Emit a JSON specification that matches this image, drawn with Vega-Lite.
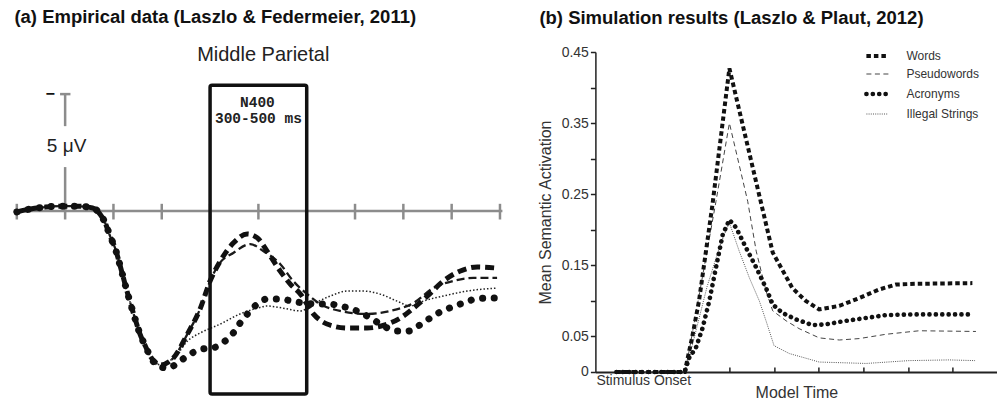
{
 "$schema": "https://vega.github.io/schema/vega-lite/v6.json",
 "background": "white",
 "padding": {"left": 2.4, "top": 8, "right": 0, "bottom": 0},
 "spacing": 23,
 "resolve": {"scale": {"color": "independent", "strokeDash": "independent", "strokeWidth": "independent"}, "legend": {"color": "independent", "strokeDash": "independent", "strokeWidth": "independent"}},
 "datasets": {
  "ticks": [{"t":-100},{"t":0},{"t":100},{"t":200},{"t":300},{"t":400},{"t":500},{"t":600},{"t":700},{"t":800},{"t":900}],
  "erp": [
   {"s":"Words","t":-100,"v":0.04},{"s":"Words","t":-72,"v":-0.09},{"s":"Words","t":-41,"v":-0.17},{"s":"Words","t":-10,"v":-0.21},{"s":"Words","t":21,"v":-0.21},{"s":"Words","t":48,"v":-0.17},{"s":"Words","t":62,"v":-0.09},{"s":"Words","t":72,"v":0.13},{"s":"Words","t":83,"v":0.51},{"s":"Words","t":93,"v":1.07},{"s":"Words","t":104,"v":1.62},{"s":"Words","t":114,"v":2.35},{"s":"Words","t":124,"v":3.12},{"s":"Words","t":135,"v":3.93},{"s":"Words","t":145,"v":4.62},{"s":"Words","t":155,"v":5.26},{"s":"Words","t":166,"v":5.77},{"s":"Words","t":176,"v":6.2},
   {"s":"Words","t":186,"v":6.45},{"s":"Words","t":197,"v":6.58},{"s":"Words","t":224,"v":6.28},{"s":"Words","t":253,"v":5.26},{"s":"Words","t":280,"v":4.15},{"s":"Words","t":300,"v":2.99},{"s":"Words","t":321,"v":2.14},{"s":"Words","t":348,"v":1.37},{"s":"Words","t":377,"v":0.98},{"s":"Words","t":398,"v":1.15},{"s":"Words","t":418,"v":1.71},{"s":"Words","t":445,"v":2.56},{"s":"Words","t":466,"v":3.12},{"s":"Words","t":487,"v":3.55},{"s":"Words","t":514,"v":4.4},{"s":"Words","t":542,"v":4.83},{"s":"Words","t":584,"v":5.0},{"s":"Words","t":625,"v":5.0},{"s":"Words","t":667,"v":4.83},{"s":"Words","t":694,"v":4.57},{"s":"Words","t":721,"v":4.15},{"s":"Words","t":750,"v":3.63},{"s":"Words","t":783,"v":2.99},{"s":"Words","t":818,"v":2.56},{"s":"Words","t":853,"v":2.39},{"s":"Words","t":894,"v":2.44},
   {"s":"Pseudowords","t":-100,"v":0.04},{"s":"Pseudowords","t":-72,"v":-0.09},{"s":"Pseudowords","t":-41,"v":-0.17},{"s":"Pseudowords","t":-10,"v":-0.21},{"s":"Pseudowords","t":21,"v":-0.21},{"s":"Pseudowords","t":48,"v":-0.17},{"s":"Pseudowords","t":62,"v":-0.09},{"s":"Pseudowords","t":72,"v":0.13},{"s":"Pseudowords","t":83,"v":0.51},{"s":"Pseudowords","t":93,"v":1.07},{"s":"Pseudowords","t":104,"v":1.62},{"s":"Pseudowords","t":114,"v":2.35},{"s":"Pseudowords","t":124,"v":3.12},{"s":"Pseudowords","t":135,"v":3.93},{"s":"Pseudowords","t":145,"v":4.62},{"s":"Pseudowords","t":155,"v":5.26},{"s":"Pseudowords","t":166,"v":5.77},{"s":"Pseudowords","t":176,"v":6.2},
   {"s":"Pseudowords","t":186,"v":6.45},{"s":"Pseudowords","t":197,"v":6.58},{"s":"Pseudowords","t":224,"v":6.28},{"s":"Pseudowords","t":253,"v":5.26},{"s":"Pseudowords","t":280,"v":4.15},{"s":"Pseudowords","t":300,"v":2.99},{"s":"Pseudowords","t":321,"v":2.2},{"s":"Pseudowords","t":348,"v":1.79},{"s":"Pseudowords","t":383,"v":1.41},{"s":"Pseudowords","t":410,"v":1.71},{"s":"Pseudowords","t":445,"v":2.26},{"s":"Pseudowords","t":472,"v":2.99},{"s":"Pseudowords","t":501,"v":3.55},{"s":"Pseudowords","t":528,"v":3.97},{"s":"Pseudowords","t":569,"v":4.27},{"s":"Pseudowords","t":625,"v":4.4},{"s":"Pseudowords","t":673,"v":4.27},{"s":"Pseudowords","t":721,"v":3.93},{"s":"Pseudowords","t":762,"v":3.29},{"s":"Pseudowords","t":803,"v":2.99},{"s":"Pseudowords","t":845,"v":2.86},{"s":"Pseudowords","t":894,"v":2.86},
   {"s":"Acronyms","t":-100,"v":0.04},{"s":"Acronyms","t":-72,"v":-0.09},{"s":"Acronyms","t":-41,"v":-0.17},{"s":"Acronyms","t":-10,"v":-0.21},{"s":"Acronyms","t":21,"v":-0.21},{"s":"Acronyms","t":48,"v":-0.17},{"s":"Acronyms","t":62,"v":-0.09},{"s":"Acronyms","t":72,"v":0.13},{"s":"Acronyms","t":83,"v":0.51},{"s":"Acronyms","t":93,"v":1.07},{"s":"Acronyms","t":104,"v":1.62},{"s":"Acronyms","t":114,"v":2.35},{"s":"Acronyms","t":124,"v":3.12},{"s":"Acronyms","t":135,"v":3.93},{"s":"Acronyms","t":145,"v":4.62},{"s":"Acronyms","t":155,"v":5.26},{"s":"Acronyms","t":166,"v":5.77},{"s":"Acronyms","t":176,"v":6.2},
   {"s":"Acronyms","t":191,"v":6.62},{"s":"Acronyms","t":213,"v":6.71},{"s":"Acronyms","t":238,"v":6.41},{"s":"Acronyms","t":259,"v":6.11},{"s":"Acronyms","t":284,"v":5.9},{"s":"Acronyms","t":306,"v":5.85},{"s":"Acronyms","t":331,"v":5.56},{"s":"Acronyms","t":348,"v":5.21},{"s":"Acronyms","t":362,"v":4.79},{"s":"Acronyms","t":379,"v":4.36},{"s":"Acronyms","t":398,"v":3.97},{"s":"Acronyms","t":418,"v":3.76},{"s":"Acronyms","t":445,"v":3.76},{"s":"Acronyms","t":470,"v":3.85},{"s":"Acronyms","t":493,"v":3.93},{"s":"Acronyms","t":518,"v":3.97},{"s":"Acronyms","t":545,"v":3.97},{"s":"Acronyms","t":569,"v":4.06},{"s":"Acronyms","t":594,"v":4.19},{"s":"Acronyms","t":617,"v":4.4},{"s":"Acronyms","t":642,"v":4.7},{"s":"Acronyms","t":663,"v":4.96},{"s":"Acronyms","t":687,"v":5.13},{"s":"Acronyms","t":710,"v":5.13},{"s":"Acronyms","t":731,"v":4.91},{"s":"Acronyms","t":756,"v":4.57},{"s":"Acronyms","t":776,"v":4.32},{"s":"Acronyms","t":801,"v":4.1},{"s":"Acronyms","t":824,"v":3.93},{"s":"Acronyms","t":849,"v":3.76},{"s":"Acronyms","t":874,"v":3.72},{"s":"Acronyms","t":897,"v":3.72},
   {"s":"Illegal Strings","t":-100,"v":0.04},{"s":"Illegal Strings","t":-72,"v":-0.09},{"s":"Illegal Strings","t":-41,"v":-0.17},{"s":"Illegal Strings","t":-10,"v":-0.21},{"s":"Illegal Strings","t":21,"v":-0.21},{"s":"Illegal Strings","t":48,"v":-0.17},{"s":"Illegal Strings","t":62,"v":-0.09},{"s":"Illegal Strings","t":72,"v":0.13},{"s":"Illegal Strings","t":83,"v":0.51},{"s":"Illegal Strings","t":93,"v":1.07},{"s":"Illegal Strings","t":104,"v":1.62},{"s":"Illegal Strings","t":114,"v":2.35},{"s":"Illegal Strings","t":124,"v":3.12},{"s":"Illegal Strings","t":135,"v":3.93},{"s":"Illegal Strings","t":145,"v":4.62},{"s":"Illegal Strings","t":155,"v":5.26},{"s":"Illegal Strings","t":166,"v":5.77},{"s":"Illegal Strings","t":176,"v":6.2},
   {"s":"Illegal Strings","t":186,"v":6.45},{"s":"Illegal Strings","t":197,"v":6.58},{"s":"Illegal Strings","t":232,"v":6.11},{"s":"Illegal Strings","t":253,"v":5.56},{"s":"Illegal Strings","t":280,"v":5.21},{"s":"Illegal Strings","t":321,"v":4.83},{"s":"Illegal Strings","t":362,"v":4.4},{"s":"Illegal Strings","t":398,"v":4.15},{"s":"Illegal Strings","t":418,"v":4.06},{"s":"Illegal Strings","t":451,"v":4.15},{"s":"Illegal Strings","t":487,"v":4.27},{"s":"Illegal Strings","t":514,"v":3.97},{"s":"Illegal Strings","t":549,"v":3.63},{"s":"Illegal Strings","t":584,"v":3.42},{"s":"Illegal Strings","t":617,"v":3.42},{"s":"Illegal Strings","t":652,"v":3.55},{"s":"Illegal Strings","t":687,"v":3.85},{"s":"Illegal Strings","t":714,"v":4.06},{"s":"Illegal Strings","t":741,"v":3.85},{"s":"Illegal Strings","t":783,"v":3.63},{"s":"Illegal Strings","t":832,"v":3.42},{"s":"Illegal Strings","t":894,"v":3.29}
  ],
  "sim": [
   {"s":"Words","t":0.47,"v":0},{"s":"Words","t":2,"v":0},{"s":"Words","t":2.17,"v":0.05},{"s":"Words","t":2.32,"v":0.1},{"s":"Words","t":2.62,"v":0.235},{"s":"Words","t":3,"v":0.427},{"s":"Words","t":3.97,"v":0.168},{"s":"Words","t":4.19,"v":0.143},{"s":"Words","t":4.41,"v":0.118},{"s":"Words","t":4.71,"v":0.1},{"s":"Words","t":5.01,"v":0.088},{"s":"Words","t":5.46,"v":0.093},{"s":"Words","t":5.91,"v":0.104},{"s":"Words","t":6.35,"v":0.116},{"s":"Words","t":6.73,"v":0.123},{"s":"Words","t":7.17,"v":0.124},{"s":"Words","t":8.44,"v":0.125},
   {"s":"Pseudowords","t":0.47,"v":0},{"s":"Pseudowords","t":2,"v":0},{"s":"Pseudowords","t":2.1,"v":0.03},{"s":"Pseudowords","t":2.7,"v":0.24},{"s":"Pseudowords","t":3,"v":0.35},{"s":"Pseudowords","t":3.41,"v":0.24},{"s":"Pseudowords","t":3.6,"v":0.17},{"s":"Pseudowords","t":3.82,"v":0.114},{"s":"Pseudowords","t":3.97,"v":0.086},{"s":"Pseudowords","t":4.27,"v":0.072},{"s":"Pseudowords","t":4.56,"v":0.061},{"s":"Pseudowords","t":5.01,"v":0.048},{"s":"Pseudowords","t":5.46,"v":0.045},{"s":"Pseudowords","t":5.91,"v":0.047},{"s":"Pseudowords","t":6.5,"v":0.053},{"s":"Pseudowords","t":7.25,"v":0.058},{"s":"Pseudowords","t":8.52,"v":0.057},
   {"s":"Acronyms","t":0.47,"v":0},{"s":"Acronyms","t":2,"v":0},{"s":"Acronyms","t":2.1,"v":0.02},{"s":"Acronyms","t":2.25,"v":0.034},{"s":"Acronyms","t":2.4,"v":0.062},{"s":"Acronyms","t":2.55,"v":0.1},{"s":"Acronyms","t":2.7,"v":0.147},{"s":"Acronyms","t":2.85,"v":0.193},{"s":"Acronyms","t":3,"v":0.214},{"s":"Acronyms","t":3.15,"v":0.203},{"s":"Acronyms","t":3.37,"v":0.175},{"s":"Acronyms","t":3.6,"v":0.147},{"s":"Acronyms","t":3.82,"v":0.118},{"s":"Acronyms","t":3.97,"v":0.095},{"s":"Acronyms","t":4.19,"v":0.083},{"s":"Acronyms","t":4.49,"v":0.074},{"s":"Acronyms","t":4.86,"v":0.066},{"s":"Acronyms","t":5.16,"v":0.067},{"s":"Acronyms","t":5.61,"v":0.072},{"s":"Acronyms","t":6.06,"v":0.076},{"s":"Acronyms","t":6.5,"v":0.08},{"s":"Acronyms","t":7.1,"v":0.081},{"s":"Acronyms","t":8.44,"v":0.081},
   {"s":"Illegal Strings","t":0.47,"v":0},{"s":"Illegal Strings","t":2,"v":0},{"s":"Illegal Strings","t":2.1,"v":0.02},{"s":"Illegal Strings","t":2.5,"v":0.12},{"s":"Illegal Strings","t":2.8,"v":0.18},{"s":"Illegal Strings","t":3,"v":0.21},{"s":"Illegal Strings","t":3.22,"v":0.17},{"s":"Illegal Strings","t":3.45,"v":0.132},{"s":"Illegal Strings","t":3.67,"v":0.1},{"s":"Illegal Strings","t":3.82,"v":0.072},{"s":"Illegal Strings","t":4.0,"v":0.037},{"s":"Illegal Strings","t":4.34,"v":0.026},{"s":"Illegal Strings","t":4.79,"v":0.018},{"s":"Illegal Strings","t":5.01,"v":0.014},{"s":"Illegal Strings","t":6.06,"v":0.012},{"s":"Illegal Strings","t":7.02,"v":0.016},{"s":"Illegal Strings","t":7.92,"v":0.017},{"s":"Illegal Strings","t":8.5,"v":0.016}
  ]
 },
 "hconcat": [
  {
   "width": 488,
   "height": 349,
   "title": {"text": "(a) Empirical data (Laszlo & Federmeier, 2011)", "offset": 18},
   "layer": [
    {"data": {"values": [{}]}, "mark": {"type": "rule", "color": "#8c8c8c", "strokeWidth": 2.5},
     "encoding": {"x": {"datum": -100, "type": "quantitative", "scale": {"domain": [-105, 905], "nice": false, "zero": false}, "axis": null}, "x2": {"datum": 905},
                  "y": {"datum": 0, "type": "quantitative", "scale": {"domain": [-6.8, 8.12], "nice": false, "zero": false, "reverse": true}, "axis": null}}},
    {"data": {"name": "ticks"}, "mark": {"type": "rule", "color": "#8c8c8c", "strokeWidth": 2.5},
     "encoding": {"x": {"field": "t", "type": "quantitative", "scale": {"domain": [-105, 905], "nice": false, "zero": false}, "axis": null},
                  "y": {"datum": -0.31, "type": "quantitative", "scale": {"domain": [-6.8, 8.12], "nice": false, "zero": false, "reverse": true}, "axis": null}, "y2": {"datum": 0.36}}},
    {"data": {"values": [{}]}, "mark": {"type": "rule", "color": "#8c8c8c", "strokeWidth": 2.5},
     "encoding": {"x": {"datum": 0, "type": "quantitative", "scale": {"domain": [-105, 905], "nice": false, "zero": false}, "axis": null},
                  "y": {"datum": 0, "type": "quantitative", "scale": {"domain": [-6.8, 8.12], "nice": false, "zero": false, "reverse": true}, "axis": null}, "y2": {"datum": -1.88}}},
    {"data": {"values": [{}]}, "mark": {"type": "rule", "color": "#8c8c8c", "strokeWidth": 2.5},
     "encoding": {"x": {"datum": 0, "type": "quantitative", "scale": {"domain": [-105, 905], "nice": false, "zero": false}, "axis": null},
                  "y": {"datum": -3.63, "type": "quantitative", "scale": {"domain": [-6.8, 8.12], "nice": false, "zero": false, "reverse": true}, "axis": null}, "y2": {"datum": -5.0}}},
    {"data": {"values": [{}]}, "mark": {"type": "rule", "color": "#8c8c8c", "strokeWidth": 2.5},
     "encoding": {"x": {"datum": -10.5, "type": "quantitative", "scale": {"domain": [-105, 905], "nice": false, "zero": false}, "axis": null}, "x2": {"datum": 11},
                  "y": {"datum": -5.0, "type": "quantitative", "scale": {"domain": [-6.8, 8.12], "nice": false, "zero": false, "reverse": true}, "axis": null}}},
    {"data": {"values": [{}]}, "mark": {"type": "text", "text": "−", "fontSize": 16, "fontWeight": "bold", "color": "#111", "baseline": "middle"},
     "encoding": {"x": {"datum": -31, "type": "quantitative", "scale": {"domain": [-105, 905], "nice": false, "zero": false}, "axis": null},
                  "y": {"datum": -5.0, "type": "quantitative", "scale": {"domain": [-6.8, 8.12], "nice": false, "zero": false, "reverse": true}, "axis": null}}},
    {"data": {"values": [{}]}, "mark": {"type": "text", "text": "5 μV", "fontSize": 19, "color": "#222", "baseline": "middle"},
     "encoding": {"x": {"datum": 3, "type": "quantitative", "scale": {"domain": [-105, 905], "nice": false, "zero": false}, "axis": null},
                  "y": {"datum": -2.78, "type": "quantitative", "scale": {"domain": [-6.8, 8.12], "nice": false, "zero": false, "reverse": true}, "axis": null}}},
    {"data": {"values": [{}]}, "mark": {"type": "text", "text": "Middle Parietal", "fontSize": 20, "color": "#222", "baseline": "middle"},
     "encoding": {"x": {"datum": 410, "type": "quantitative", "scale": {"domain": [-105, 905], "nice": false, "zero": false}, "axis": null},
                  "y": {"datum": -6.68, "type": "quantitative", "scale": {"domain": [-6.8, 8.12], "nice": false, "zero": false, "reverse": true}, "axis": null}}},
    {"data": {"name": "erp"}, "transform": [{"filter": "datum.s === 'Illegal Strings'"}],
     "mark": {"type": "line", "color": "#222", "strokeWidth": 1.5, "strokeDash": [1.5, 2], "interpolate": "monotone"},
     "encoding": {"x": {"field": "t", "type": "quantitative", "scale": {"domain": [-105, 905], "nice": false, "zero": false}, "axis": null},
                  "y": {"field": "v", "type": "quantitative", "scale": {"domain": [-6.8, 8.12], "nice": false, "zero": false, "reverse": true}, "axis": null}}},
    {"data": {"name": "erp"}, "transform": [{"filter": "datum.s === 'Pseudowords'"}],
     "mark": {"type": "line", "color": "#1a1a1a", "strokeWidth": 2.3, "strokeDash": [8, 4], "interpolate": "monotone"},
     "encoding": {"x": {"field": "t", "type": "quantitative", "scale": {"domain": [-105, 905], "nice": false, "zero": false}, "axis": null},
                  "y": {"field": "v", "type": "quantitative", "scale": {"domain": [-6.8, 8.12], "nice": false, "zero": false, "reverse": true}, "axis": null}}},
    {"data": {"name": "erp"}, "transform": [{"filter": "datum.s === 'Words'"}],
     "mark": {"type": "line", "color": "#111", "strokeWidth": 5, "strokeDash": [9, 5], "interpolate": "monotone"},
     "encoding": {"x": {"field": "t", "type": "quantitative", "scale": {"domain": [-105, 905], "nice": false, "zero": false}, "axis": null},
                  "y": {"field": "v", "type": "quantitative", "scale": {"domain": [-6.8, 8.12], "nice": false, "zero": false, "reverse": true}, "axis": null}}},
    {"data": {"name": "erp"}, "transform": [{"filter": "datum.s === 'Acronyms'"}],
     "mark": {"type": "line", "color": "#111", "strokeWidth": 7, "strokeDash": [0.1, 11.5], "strokeCap": "round", "interpolate": "monotone"},
     "encoding": {"x": {"field": "t", "type": "quantitative", "scale": {"domain": [-105, 905], "nice": false, "zero": false}, "axis": null},
                  "y": {"field": "v", "type": "quantitative", "scale": {"domain": [-6.8, 8.12], "nice": false, "zero": false, "reverse": true}, "axis": null}}},
    {"data": {"values": [{}]}, "mark": {"type": "rect", "filled": false, "stroke": "#111", "strokeWidth": 3.5, "cornerRadius": 2},
     "encoding": {"x": {"datum": 300, "type": "quantitative", "scale": {"domain": [-105, 905], "nice": false, "zero": false}, "axis": null}, "x2": {"datum": 500},
                  "y": {"datum": -5.38, "type": "quantitative", "scale": {"domain": [-6.8, 8.12], "nice": false, "zero": false, "reverse": true}, "axis": null}, "y2": {"datum": 7.82}}},
    {"data": {"values": [{}]}, "mark": {"type": "text", "text": "N400", "font": "Liberation Mono", "fontWeight": "bold", "fontSize": 14.5, "color": "#222", "baseline": "middle"},
     "encoding": {"x": {"datum": 398, "type": "quantitative", "scale": {"domain": [-105, 905], "nice": false, "zero": false}, "axis": null},
                  "y": {"datum": -4.63, "type": "quantitative", "scale": {"domain": [-6.8, 8.12], "nice": false, "zero": false, "reverse": true}, "axis": null}}},
    {"data": {"values": [{}]}, "mark": {"type": "text", "text": "300-500 ms", "font": "Liberation Mono", "fontWeight": "bold", "fontSize": 14.5, "color": "#222", "baseline": "middle"},
     "encoding": {"x": {"datum": 400, "type": "quantitative", "scale": {"domain": [-105, 905], "nice": false, "zero": false}, "axis": null},
                  "y": {"datum": -3.93, "type": "quantitative", "scale": {"domain": [-6.8, 8.12], "nice": false, "zero": false, "reverse": true}, "axis": null}}}
   ]
  },
  {
   "width": 402,
   "height": 320,
   "title": {"text": "(b) Simulation results (Laszlo & Plaut, 2012)", "offset": 18, "dx": -56},
   "layer": [
    {"data": {"name": "sim"}, "transform": [{"filter": "datum.s === 'Illegal Strings'"}],
     "mark": {"type": "line", "strokeCap": "butt"},
     "encoding": {
      "x": {"field": "t", "type": "quantitative", "scale": {"domain": [0, 9], "nice": false, "zero": false}, "axis": {"values": [3, 4, 5, 6, 7, 8], "labels": false, "tickSize": -5, "tickWidth": 1.5, "tickColor": "#222", "domainColor": "#222", "domainWidth": 2, "grid": false, "title": "Model Time", "titleFontSize": 16, "titleFontWeight": "normal", "titleColor": "#333", "titlePadding": 12}},
      "y": {"field": "v", "type": "quantitative", "scale": {"domain": [0, 0.45], "nice": false, "zero": false}, "axis": {"values": [0, 0.05, 0.1, 0.15, 0.2, 0.25, 0.3, 0.35, 0.4, 0.45], "format": ".2~f", "labelExpr": "datum.value == 0.1 || datum.value == 0.2 || datum.value == 0.3 || datum.value == 0.4 ? '' : datum.label", "labelFlush": false, "labelOverlap": false, "labelFontSize": 14, "labelColor": "#333", "labelPadding": 2, "tickSize": 5, "tickWidth": 1.5, "tickColor": "#222", "domainColor": "#222", "domainWidth": 1.5, "grid": false, "title": "Mean Semantic Activation", "titleFontSize": 16, "titleFontWeight": "normal", "titleColor": "#333", "titlePadding": 8}},
      "color": {"field": "s", "type": "nominal", "scale": {"domain": ["Words", "Pseudowords", "Acronyms", "Illegal Strings"], "range": ["#111111", "#444444", "#111111", "#555555"]}, "legend": {"title": null, "orient": "none", "legendX": 276, "legendY": -2, "symbolType": "M-5.5,0H5.5", "symbolSize": 16, "labelFontSize": 12, "labelColor": "#333", "rowPadding": 4, "labelOffset": 23, "padding": 0, "encode": {"symbols": {"update": {"strokeCap": {"signal": "datum.value === 'Acronyms' ? 'round' : 'butt'"}}}}}},
      "strokeDash": {"field": "s", "type": "nominal", "scale": {"domain": ["Words", "Pseudowords", "Acronyms", "Illegal Strings"], "range": [[4.5, 3], [5, 3.5], [0.1, 6.3], [1, 1.2]]}, "legend": {"title": null, "orient": "none", "legendX": 276, "legendY": -2, "symbolType": "M-5.5,0H5.5", "symbolSize": 16, "labelFontSize": 12, "labelColor": "#333", "rowPadding": 4, "labelOffset": 23, "padding": 0, "encode": {"symbols": {"update": {"strokeCap": {"signal": "datum.value === 'Acronyms' ? 'round' : 'butt'"}}}}}},
      "strokeWidth": {"field": "s", "type": "nominal", "scale": {"type": "ordinal", "domain": ["Words", "Pseudowords", "Acronyms", "Illegal Strings"], "range": [4, 1, 4.6, 1]}, "legend": {"title": null, "orient": "none", "legendX": 276, "legendY": -2, "symbolType": "M-5.5,0H5.5", "symbolSize": 16, "labelFontSize": 12, "labelColor": "#333", "rowPadding": 4, "labelOffset": 23, "padding": 0, "encode": {"symbols": {"update": {"strokeCap": {"signal": "datum.value === 'Acronyms' ? 'round' : 'butt'"}}}}}}
     }},
    {"data": {"name": "sim"}, "transform": [{"filter": "datum.s === 'Pseudowords'"}],
     "mark": {"type": "line", "strokeCap": "butt"},
     "encoding": {
      "x": {"field": "t", "type": "quantitative", "scale": {"domain": [0, 9], "nice": false, "zero": false}, "axis": {"values": [3, 4, 5, 6, 7, 8], "labels": false, "tickSize": -5, "tickWidth": 1.5, "tickColor": "#222", "domainColor": "#222", "domainWidth": 2, "grid": false, "title": "Model Time", "titleFontSize": 16, "titleFontWeight": "normal", "titleColor": "#333", "titlePadding": 12}},
      "y": {"field": "v", "type": "quantitative", "scale": {"domain": [0, 0.45], "nice": false, "zero": false}, "axis": {"values": [0, 0.05, 0.1, 0.15, 0.2, 0.25, 0.3, 0.35, 0.4, 0.45], "format": ".2~f", "labelExpr": "datum.value == 0.1 || datum.value == 0.2 || datum.value == 0.3 || datum.value == 0.4 ? '' : datum.label", "labelFlush": false, "labelOverlap": false, "labelFontSize": 14, "labelColor": "#333", "labelPadding": 2, "tickSize": 5, "tickWidth": 1.5, "tickColor": "#222", "domainColor": "#222", "domainWidth": 1.5, "grid": false, "title": "Mean Semantic Activation", "titleFontSize": 16, "titleFontWeight": "normal", "titleColor": "#333", "titlePadding": 8}},
      "color": {"field": "s", "type": "nominal", "scale": {"domain": ["Words", "Pseudowords", "Acronyms", "Illegal Strings"], "range": ["#111111", "#444444", "#111111", "#555555"]}, "legend": {"title": null, "orient": "none", "legendX": 276, "legendY": -2, "symbolType": "M-5.5,0H5.5", "symbolSize": 16, "labelFontSize": 12, "labelColor": "#333", "rowPadding": 4, "labelOffset": 23, "padding": 0, "encode": {"symbols": {"update": {"strokeCap": {"signal": "datum.value === 'Acronyms' ? 'round' : 'butt'"}}}}}},
      "strokeDash": {"field": "s", "type": "nominal", "scale": {"domain": ["Words", "Pseudowords", "Acronyms", "Illegal Strings"], "range": [[4.5, 3], [5, 3.5], [0.1, 6.3], [1, 1.2]]}, "legend": {"title": null, "orient": "none", "legendX": 276, "legendY": -2, "symbolType": "M-5.5,0H5.5", "symbolSize": 16, "labelFontSize": 12, "labelColor": "#333", "rowPadding": 4, "labelOffset": 23, "padding": 0, "encode": {"symbols": {"update": {"strokeCap": {"signal": "datum.value === 'Acronyms' ? 'round' : 'butt'"}}}}}},
      "strokeWidth": {"field": "s", "type": "nominal", "scale": {"type": "ordinal", "domain": ["Words", "Pseudowords", "Acronyms", "Illegal Strings"], "range": [4, 1, 4.6, 1]}, "legend": {"title": null, "orient": "none", "legendX": 276, "legendY": -2, "symbolType": "M-5.5,0H5.5", "symbolSize": 16, "labelFontSize": 12, "labelColor": "#333", "rowPadding": 4, "labelOffset": 23, "padding": 0, "encode": {"symbols": {"update": {"strokeCap": {"signal": "datum.value === 'Acronyms' ? 'round' : 'butt'"}}}}}}
     }},
    {"data": {"name": "sim"}, "transform": [{"filter": "datum.s === 'Words'"}],
     "mark": {"type": "line", "strokeCap": "butt"},
     "encoding": {
      "x": {"field": "t", "type": "quantitative", "scale": {"domain": [0, 9], "nice": false, "zero": false}, "axis": {"values": [3, 4, 5, 6, 7, 8], "labels": false, "tickSize": -5, "tickWidth": 1.5, "tickColor": "#222", "domainColor": "#222", "domainWidth": 2, "grid": false, "title": "Model Time", "titleFontSize": 16, "titleFontWeight": "normal", "titleColor": "#333", "titlePadding": 12}},
      "y": {"field": "v", "type": "quantitative", "scale": {"domain": [0, 0.45], "nice": false, "zero": false}, "axis": {"values": [0, 0.05, 0.1, 0.15, 0.2, 0.25, 0.3, 0.35, 0.4, 0.45], "format": ".2~f", "labelExpr": "datum.value == 0.1 || datum.value == 0.2 || datum.value == 0.3 || datum.value == 0.4 ? '' : datum.label", "labelFlush": false, "labelOverlap": false, "labelFontSize": 14, "labelColor": "#333", "labelPadding": 2, "tickSize": 5, "tickWidth": 1.5, "tickColor": "#222", "domainColor": "#222", "domainWidth": 1.5, "grid": false, "title": "Mean Semantic Activation", "titleFontSize": 16, "titleFontWeight": "normal", "titleColor": "#333", "titlePadding": 8}},
      "color": {"field": "s", "type": "nominal", "scale": {"domain": ["Words", "Pseudowords", "Acronyms", "Illegal Strings"], "range": ["#111111", "#444444", "#111111", "#555555"]}, "legend": {"title": null, "orient": "none", "legendX": 276, "legendY": -2, "symbolType": "M-5.5,0H5.5", "symbolSize": 16, "labelFontSize": 12, "labelColor": "#333", "rowPadding": 4, "labelOffset": 23, "padding": 0, "encode": {"symbols": {"update": {"strokeCap": {"signal": "datum.value === 'Acronyms' ? 'round' : 'butt'"}}}}}},
      "strokeDash": {"field": "s", "type": "nominal", "scale": {"domain": ["Words", "Pseudowords", "Acronyms", "Illegal Strings"], "range": [[4.5, 3], [5, 3.5], [0.1, 6.3], [1, 1.2]]}, "legend": {"title": null, "orient": "none", "legendX": 276, "legendY": -2, "symbolType": "M-5.5,0H5.5", "symbolSize": 16, "labelFontSize": 12, "labelColor": "#333", "rowPadding": 4, "labelOffset": 23, "padding": 0, "encode": {"symbols": {"update": {"strokeCap": {"signal": "datum.value === 'Acronyms' ? 'round' : 'butt'"}}}}}},
      "strokeWidth": {"field": "s", "type": "nominal", "scale": {"type": "ordinal", "domain": ["Words", "Pseudowords", "Acronyms", "Illegal Strings"], "range": [4, 1, 4.6, 1]}, "legend": {"title": null, "orient": "none", "legendX": 276, "legendY": -2, "symbolType": "M-5.5,0H5.5", "symbolSize": 16, "labelFontSize": 12, "labelColor": "#333", "rowPadding": 4, "labelOffset": 23, "padding": 0, "encode": {"symbols": {"update": {"strokeCap": {"signal": "datum.value === 'Acronyms' ? 'round' : 'butt'"}}}}}}
     }},
    {"data": {"name": "sim"}, "transform": [{"filter": "datum.s === 'Acronyms'"}],
     "mark": {"type": "line", "strokeCap": "round"},
     "encoding": {
      "x": {"field": "t", "type": "quantitative", "scale": {"domain": [0, 9], "nice": false, "zero": false}, "axis": {"values": [3, 4, 5, 6, 7, 8], "labels": false, "tickSize": -5, "tickWidth": 1.5, "tickColor": "#222", "domainColor": "#222", "domainWidth": 2, "grid": false, "title": "Model Time", "titleFontSize": 16, "titleFontWeight": "normal", "titleColor": "#333", "titlePadding": 12}},
      "y": {"field": "v", "type": "quantitative", "scale": {"domain": [0, 0.45], "nice": false, "zero": false}, "axis": {"values": [0, 0.05, 0.1, 0.15, 0.2, 0.25, 0.3, 0.35, 0.4, 0.45], "format": ".2~f", "labelExpr": "datum.value == 0.1 || datum.value == 0.2 || datum.value == 0.3 || datum.value == 0.4 ? '' : datum.label", "labelFlush": false, "labelOverlap": false, "labelFontSize": 14, "labelColor": "#333", "labelPadding": 2, "tickSize": 5, "tickWidth": 1.5, "tickColor": "#222", "domainColor": "#222", "domainWidth": 1.5, "grid": false, "title": "Mean Semantic Activation", "titleFontSize": 16, "titleFontWeight": "normal", "titleColor": "#333", "titlePadding": 8}},
      "color": {"field": "s", "type": "nominal", "scale": {"domain": ["Words", "Pseudowords", "Acronyms", "Illegal Strings"], "range": ["#111111", "#444444", "#111111", "#555555"]}, "legend": {"title": null, "orient": "none", "legendX": 276, "legendY": -2, "symbolType": "M-5.5,0H5.5", "symbolSize": 16, "labelFontSize": 12, "labelColor": "#333", "rowPadding": 4, "labelOffset": 23, "padding": 0, "encode": {"symbols": {"update": {"strokeCap": {"signal": "datum.value === 'Acronyms' ? 'round' : 'butt'"}}}}}},
      "strokeDash": {"field": "s", "type": "nominal", "scale": {"domain": ["Words", "Pseudowords", "Acronyms", "Illegal Strings"], "range": [[4.5, 3], [5, 3.5], [0.1, 6.3], [1, 1.2]]}, "legend": {"title": null, "orient": "none", "legendX": 276, "legendY": -2, "symbolType": "M-5.5,0H5.5", "symbolSize": 16, "labelFontSize": 12, "labelColor": "#333", "rowPadding": 4, "labelOffset": 23, "padding": 0, "encode": {"symbols": {"update": {"strokeCap": {"signal": "datum.value === 'Acronyms' ? 'round' : 'butt'"}}}}}},
      "strokeWidth": {"field": "s", "type": "nominal", "scale": {"type": "ordinal", "domain": ["Words", "Pseudowords", "Acronyms", "Illegal Strings"], "range": [4, 1, 4.6, 1]}, "legend": {"title": null, "orient": "none", "legendX": 276, "legendY": -2, "symbolType": "M-5.5,0H5.5", "symbolSize": 16, "labelFontSize": 12, "labelColor": "#333", "rowPadding": 4, "labelOffset": 23, "padding": 0, "encode": {"symbols": {"update": {"strokeCap": {"signal": "datum.value === 'Acronyms' ? 'round' : 'butt'"}}}}}}
     }},
    {"data": {"values": [{}]}, "mark": {"type": "text", "text": "Stimulus Onset", "align": "left", "baseline": "top", "dx": 1, "dy": 2.5, "fontSize": 14, "color": "#333"},
     "encoding": {
      "x": {"datum": 0, "type": "quantitative", "scale": {"domain": [0, 9], "nice": false, "zero": false}, "axis": {"values": [3, 4, 5, 6, 7, 8], "labels": false, "tickSize": -5, "tickWidth": 1.5, "tickColor": "#222", "domainColor": "#222", "domainWidth": 2, "grid": false, "title": "Model Time", "titleFontSize": 16, "titleFontWeight": "normal", "titleColor": "#333", "titlePadding": 12}},
      "y": {"datum": 0, "type": "quantitative", "scale": {"domain": [0, 0.45], "nice": false, "zero": false}, "axis": {"values": [0, 0.05, 0.1, 0.15, 0.2, 0.25, 0.3, 0.35, 0.4, 0.45], "format": ".2~f", "labelExpr": "datum.value == 0.1 || datum.value == 0.2 || datum.value == 0.3 || datum.value == 0.4 ? '' : datum.label", "labelFlush": false, "labelOverlap": false, "labelFontSize": 14, "labelColor": "#333", "labelPadding": 2, "tickSize": 5, "tickWidth": 1.5, "tickColor": "#222", "domainColor": "#222", "domainWidth": 1.5, "grid": false, "title": "Mean Semantic Activation", "titleFontSize": 16, "titleFontWeight": "normal", "titleColor": "#333", "titlePadding": 8}}
     }}
   ]
  }
 ],
 "config": {
  "view": {"stroke": null},
  "font": "Liberation Sans",
  "title": {"fontSize": 18.5, "fontWeight": "bold", "font": "Liberation Sans", "color": "#111", "anchor": "start", "frame": "group"}
 }
}
